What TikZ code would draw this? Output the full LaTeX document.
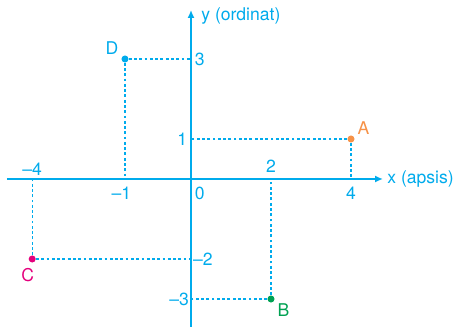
\documentclass[tikz,border=0pt]{standalone}
\usepackage{fontspec}
\setmainfont{TeX Gyre Heros}
\usepackage{tikz}
\usetikzlibrary{arrows.meta, positioning}
\definecolor{axisblue}{RGB}{0, 171, 236}
\definecolor{ptorange}{RGB}{246, 146, 72}
\definecolor{ptmagenta}{RGB}{228, 0, 124}
\definecolor{ptgreen}{RGB}{0, 161, 82}

\begin{document}
\begin{tikzpicture}[
        x=0.8cm, y=0.8cm,
        font=\fontsize{10}{12}\selectfont,
        axis/.style={-{Latex[length=4.5pt, width=4pt]}, line width=1pt, draw=axisblue},
        guide/.style={dash pattern=on 1.6pt off 1.4pt, line width=0.7pt, draw=axisblue},
        tick/.style={text=axisblue, inner sep=1pt},
        ptdot/.style={circle, inner sep=0pt, minimum size=4pt},
        ptname/.style={inner sep=1pt}
    ]
        \useasboundingbox (-4.775,-3.725) rectangle (6.65,4.475);

        % Axes
        \coordinate (xstart) at (-4.6,0);
        \coordinate (xend) at (4.8,0);
        \coordinate (ystart) at (0,-3.7);
        \coordinate (yend) at (0,4.225);
        \draw[axis] (xstart) -- (xend) node[right, text=axisblue, inner sep=2pt] (xlabel) {x (apsis)};
        \draw[axis] (ystart) -- (yend);
        \node[anchor=west, text=axisblue, inner sep=0pt] (ylabel) at (0.25,4.08) {y (ordinat)};

        % Feet of the points on the axes
        \coordinate (Ax) at (4,0);
        \coordinate (Ay) at (0,1);
        \coordinate (Bx) at (2,0);
        \coordinate (By) at (0,-3);
        \coordinate (Cx) at (-3.97,0);
        \coordinate (Cy) at (0,-2);
        \coordinate (Dx) at (-1.65,0);
        \coordinate (Dy) at (0,3);

        % Points
        \node[ptdot, fill=ptorange] (A) at (4,1) {};
        \node[ptdot, fill=ptgreen] (B) at (2,-3) {};
        \node[ptdot, fill=ptmagenta] (C) at (-3.97,-2) {};
        \node[ptdot, fill=axisblue] (D) at (-1.65,3) {};

        \node[ptname, text=ptorange, above right=0pt and 1pt of A] (Alabel) {A};
        \node[ptname, text=ptgreen, below right=0pt and 1pt of B] (Blabel) {B};
        \node[ptname, text=ptmagenta, below=2pt of C, xshift=-2.5pt] (Clabel) {C};
        \node[ptname, text=axisblue, above left=0pt and 1pt of D] (Dlabel) {D};

        % Guide lines
        \draw[guide] (A) -- (Ax);
        \draw[guide] (A) -- (Ay);
        \draw[guide] (B) -- (Bx);
        \draw[guide] (B) -- (By);
        \draw[guide] (C) -- (Cx);
        \draw[guide] (C) -- (Cy);
        \draw[guide] (D) -- (Dx);
        \draw[guide] (D) -- (Dy);

        % Tick labels
        \node[tick, below=3.5pt] (t4) at (Ax) {4};
        \node[tick, above=2.5pt] (t2) at (Bx) {2};
        \node[tick, above=1pt] (tm4) at (Cx) {–4};
        \node[tick, below=3.5pt, xshift=-2pt] (tm1) at (Dx) {–1};
        \node[tick, below right=3.5pt and 1pt] (t0) at (0,0) {0};
        \node[tick, left=1pt] (ty1) at (Ay) {1};
        \node[tick, left=0pt] (tym3) at (By) {–3};
        \node[tick, right=0pt] (tym2) at (Cy) {–2};
        \node[tick, right=1pt] (ty3) at (Dy) {3};
    \end{tikzpicture}
\end{document}
